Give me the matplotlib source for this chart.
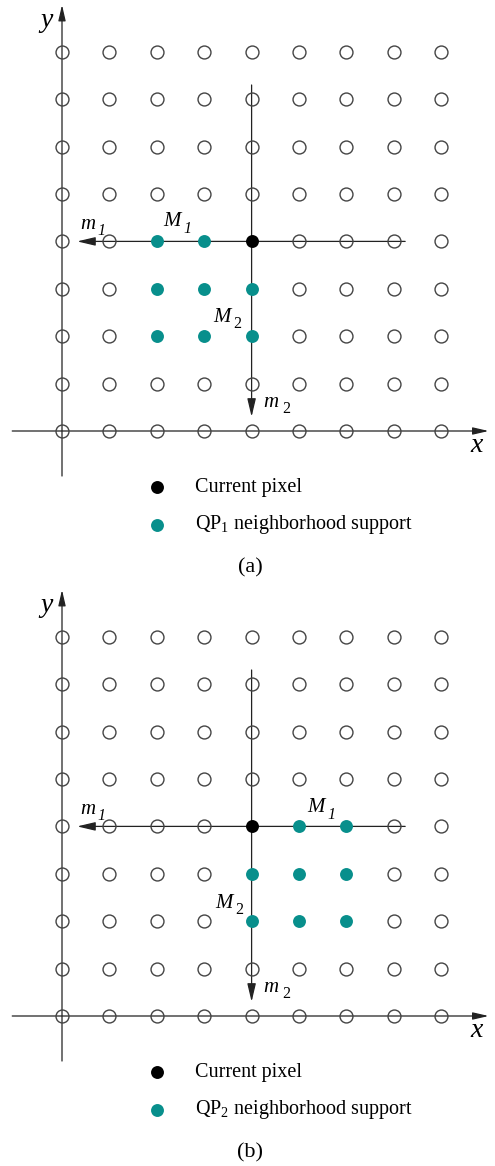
import matplotlib
matplotlib.use("Agg")
import matplotlib.pyplot as plt

plt.rcParams['font.family'] = ['Liberation Serif', 'DejaVu Serif']
plt.rcParams['mathtext.fontset'] = 'custom'
plt.rcParams['mathtext.rm'] = 'Liberation Serif'
plt.rcParams['mathtext.it'] = 'Liberation Serif:italic'

# grid of pixel positions (columns / rows)
cols = list(range(9))
rows = list(range(9))

# current pixel (col, row)
current = (4, 4)

# neighbourhood supports for each panel
support_a_x = [2, 3, 2, 3, 4, 2, 3, 4]
support_a_y = [4, 4, 3, 3, 3, 2, 2, 2]
support_b_x = [5, 6, 4, 5, 6, 4, 5, 6]
support_b_y = [4, 4, 3, 3, 3, 2, 2, 2]

# label anchors (baseline, left) for M1 / M2 in each panel
M1_a, M2_a = (2.13, 4.32), (3.19, 2.30)
M1_b, M2_b = (5.17, 4.30), (3.23, 2.28)
m1_pos, m2_pos = (0.38, 4.26), (4.24, 0.51)

TEAL = '#088f8c'
CELL = 47.4  # pixels between grid points
W, H = 495, 1166


def sub_label(ax, pos, base, sub, dx, dy, size=15, subsize=11.5):
    ax.text(pos[0], pos[1], base, fontsize=size, style='italic', ha='left', va='baseline')
    ax.annotate(sub, pos, xytext=(dx, dy), textcoords='offset pixels', fontsize=subsize,
                style='italic' if sub == '1' else 'normal', ha='left', va='baseline')


def draw_panel(ax, top_px, bot_px, origin_px, sx, sy, M1, M2, sub, tag):
    ox, oy = origin_px
    ax.set_xlim(-ox / CELL, (W - ox) / CELL)
    ax.set_ylim((oy - bot_px) / CELL, (oy - top_px) / CELL)
    ax.axis('off')

    big = dict(arrowstyle='-|>,head_length=1.1,head_width=0.26', color='#222222',
               lw=0.9, shrinkA=0, shrinkB=0)
    small = dict(big, arrowstyle='-|>,head_length=0.95,head_width=0.22')
    # x and y axes
    ax.annotate('', xy=(9.0, 0), xytext=(-1.05, 0), arrowprops=small)
    ax.annotate('', xy=(0, 8.99), xytext=(0, -0.95), arrowprops=small)
    # m1 / m2 directions through current pixel
    ax.annotate('', xy=(0.32, current[1]), xytext=(7.24, current[1]), arrowprops=big)
    ax.annotate('', xy=(current[0], 0.3), xytext=(current[0], 7.3), arrowprops=big)

    # open grid circles
    filled = set(zip(sx, sy)) | {current}
    gx = [c for c in cols for r in rows if (c, r) not in filled]
    gy = [r for c in cols for r in rows if (c, r) not in filled]
    ax.plot(gx, gy, 'o', ms=9.3, mfc='none', mec='#444444', mew=1.0, zorder=3)
    ax.plot(sx, sy, 'o', ms=9.3, color=TEAL, mew=0, zorder=4)
    ax.plot([current[0]], [current[1]], 'o', ms=9.3, color='black', mew=0, zorder=4)

    ax.text(8.75, -0.31, 'x', fontsize=20, style='italic', ha='center', va='center')
    ax.text(-0.32, 8.66, 'y', fontsize=20, style='italic', ha='center', va='center')
    sub_label(ax, m1_pos, 'm', '1', 17, -6, size=15)
    sub_label(ax, m2_pos, 'm', '2', 19, -6, size=15)
    sub_label(ax, M1, 'M', '1', 20, -7)
    sub_label(ax, M2, 'M', '2', 20, -6)

    # legend
    ax.plot([2.0], [-1.19], 'o', ms=9.3, color='black', mew=0)
    ax.plot([2.0], [-1.98], 'o', ms=9.3, color=TEAL, mew=0)
    ax.text(2.8, -1.19, 'Current pixel', fontsize=14.5, va='center')
    ax.text(2.8, -1.98, 'QP$_{%s}$ neighborhood support' % sub, fontsize=14.5, va='center')
    ax.text(3.97, -2.88, tag, fontsize=16, ha='center', va='center')


fig = plt.figure(figsize=(W / 100, H / 100), dpi=100)
ax_a = fig.add_axes([0, 1 - 583 / H, 1, 583 / H])
ax_b = fig.add_axes([0, 0, 1, 583 / H])

draw_panel(ax_a, 0, 583, (62, 431), support_a_x, support_a_y, M1_a, M2_a, '1', '(a)')
draw_panel(ax_b, 583, H, (62, 1016), support_b_x, support_b_y, M1_b, M2_b, '2', '(b)')

fig.savefig('out.png', dpi=100)
